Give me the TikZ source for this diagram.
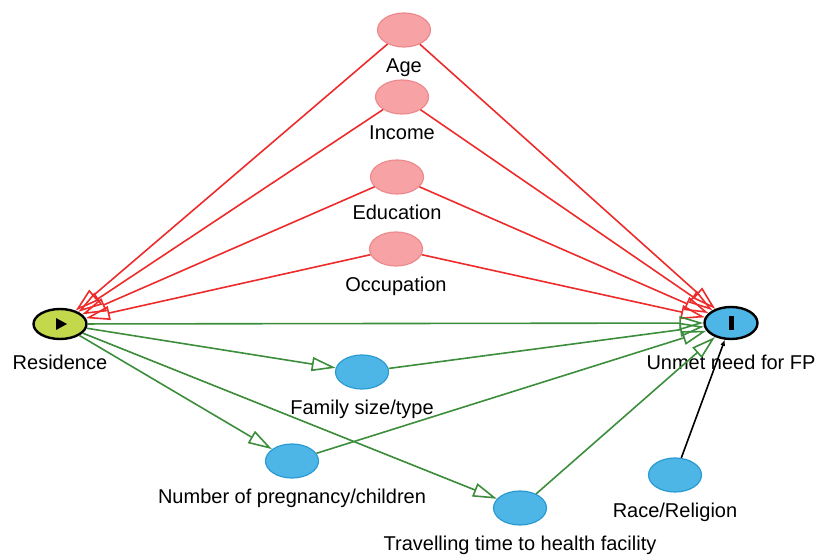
\documentclass[tikz,border=0pt]{standalone}
\usepackage{fontspec}
\setmainfont{Liberation Sans}
\usetikzlibrary{arrows.meta,shapes.geometric}
\definecolor{rosa}{HTML}{F7A3A5}
\definecolor{rosabordo}{HTML}{EC8A8E}
\definecolor{blu}{HTML}{4DB6E6}
\definecolor{blubordo}{HTML}{2A9AD2}
\definecolor{giallo}{HTML}{C4D84B}
\definecolor{rossofr}{HTML}{EE2B2B}
\definecolor{verdefr}{HTML}{3C8E3C}
\begin{document}
\begin{tikzpicture}[x=1pt,y=-1pt,label distance=11pt,
  lab/.style={font=\fontsize{20}{22}\selectfont,inner sep=0pt,text height=14pt,text depth=4pt},
  conf/.style={ellipse,draw=rosabordo,line width=1.2pt,fill=rosa,minimum width=53pt,minimum height=34pt,inner sep=0pt},
  medi/.style={ellipse,draw=blubordo,line width=1.2pt,fill=blu,minimum width=53pt,minimum height=34pt,inner sep=0pt},
  expo/.style={ellipse,draw=black,line width=2.4pt,fill=giallo,minimum width=53pt,minimum height=30pt,inner sep=0pt,
    path picture={\fill[black] ([xshift=-4pt,yshift=-6pt]path picture bounding box.center) -- ++(11pt,6pt) -- ++(-11pt,6pt) -- cycle;}},
  outc/.style={ellipse,draw=black,line width=2.4pt,fill=blu,minimum width=53pt,minimum height=32pt,inner sep=0pt,
    path picture={\fill[black] ([xshift=-2.5pt,yshift=-7pt]path picture bounding box.center) rectangle ++(5pt,14pt);}},
  rosso/.style={draw=rossofr,line width=1.6pt,-{Triangle[open,length=24pt,width=14pt]}},
  verde/.style={draw=verdefr,line width=1.6pt,-{Triangle[open,length=24pt,width=14pt]}},
  nero/.style={draw=black,line width=1.6pt,-{Latex[length=6pt,width=5pt]}}]
\useasboundingbox (0,0) rectangle (819,556);

% esposizione ed esito
\node[expo,label={[lab,yshift=-4pt]below:Residence}] (res) at (60,324) {};
\node[outc,label={[lab,yshift=-4pt]below:Unmet need for FP}] (unm) at (731,323) {};

% confondenti in rosa
\foreach \nome/\x/\y/\testo in {age/404/30/Age,inc/402/97/Income,edu/397/177/Education,occ/396/249/Occupation} {
  \node[conf,label={[lab]below:\testo}] (\nome) at (\x,\y) {};
}

% mediatori e altre variabili
\node[medi,label={[lab]below:Family size/type}] (fam) at (362,372) {};
\node[medi,label={[lab]below:Number of pregnancy/children}] (num) at (292,461) {};
\node[medi,label={[lab]below:Travelling time to health facility}] (tra) at (520,508) {};
\node[medi,label={[lab]below:Race/Religion}] (rac) at (675,475) {};

% frecce rosse
\foreach \nome in {age,inc,edu,occ} {
  \draw[rosso] (\nome) -- (res);
  \draw[rosso] (\nome) -- (unm);
}

% frecce verdi
\draw[verde] (res) -- (unm);
\foreach \nome in {fam,num,tra} {
  \draw[verde] (res) -- (\nome);
  \draw[verde] (\nome) -- (unm);
}

\draw[nero] (rac) -- (unm);
\end{tikzpicture}
\end{document}
